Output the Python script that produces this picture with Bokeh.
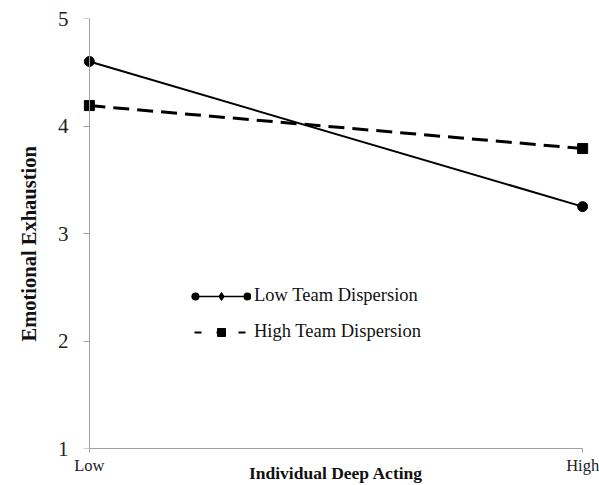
from bokeh.plotting import figure
from bokeh.models import Legend, LegendItem, FixedTicker, ColumnDataSource, LinearAxis, Title
from bokeh.embed import file_html
from bokeh.resources import INLINE

x_labels = ["Low", "High"]
x_pos = [0, 1]
low_disp = [4.6, 3.25]
high_disp = [4.19, 3.79]
y_ticks = [1, 2, 3, 4, 5]

FONT = "Liberation Serif"
PAD = 0.02

p = figure(width=599, height=485, x_range=(-PAD, 1 + PAD), y_range=(1, 5),
           output_backend="svg", toolbar_location=None,
           min_border_left=79, min_border_right=7, min_border_top=18, min_border_bottom=36)
p.outline_line_color = None
p.xgrid.visible = False
p.ygrid.visible = False

src_low = ColumnDataSource(dict(x=x_pos, y=low_disp))
src_high = ColumnDataSource(dict(x=x_pos, y=high_disp))

p.line("x", "y", source=src_low, line_color="black", line_width=2)
p.scatter("x", "y", source=src_low, marker="circle", size=10, color="black")
p.line("x", "y", source=src_high, line_color="black", line_width=3, line_dash="16 8")
p.scatter("x", "y", source=src_high, marker="square", size=10, color="black")

# legend-only glyphs (points placed outside the visible range)
dl = p.line([-9, -8], [-9, -9], line_color="black", line_width=1.5)
dc = p.line([-9, -8], [-9, -9], line_color="black", line_width=8, line_dash="0 52",
            line_dash_offset=-4, line_cap="round")
dd = p.scatter([-9], [-9], marker="diamond", size=11, color="black")
dh = p.line([-9, -8], [-9, -9], line_color="black", line_width=2, line_dash="7 15",
            line_dash_offset=-3)
dsq = p.scatter([-9], [-9], marker="square", size=9, color="black")

legend = Legend(items=[LegendItem(label="Low Team Dispersion", renderers=[dl, dc, dd]),
                       LegendItem(label="High Team Dispersion", renderers=[dh, dsq])],
                location=(112, 106), border_line_color=None, background_fill_alpha=0,
                glyph_width=60, glyph_height=20, label_standoff=3, spacing=15,
                padding=0, margin=0, label_text_font=FONT, label_text_font_size="18.5px",
                label_text_color="#111111")
p.add_layout(legend, "center")

# axis line and ticks at x = 0 (ticks drawn as minor ticks so no labels are made)
p.yaxis.fixed_location = 0
p.yaxis.bounds = (1, 5)
p.yaxis.ticker = FixedTicker(ticks=[], minor_ticks=y_ticks)
p.yaxis.major_tick_line_color = None
p.yaxis.minor_tick_out = 6
p.yaxis.minor_tick_in = 0
p.yaxis.minor_tick_line_color = "#a0a0a0"
p.yaxis.axis_line_color = "#a0a0a0"

# labels of the value axis
ylab = LinearAxis(ticker=FixedTicker(ticks=y_ticks))
ylab.axis_line_color = None
ylab.major_tick_line_color = None
ylab.minor_tick_line_color = None
ylab.major_tick_out = 0
ylab.major_tick_in = 0
ylab.major_label_text_font = FONT
ylab.major_label_text_font_size = "21px"
ylab.major_label_text_color = "#222222"
ylab.major_label_standoff = 11
p.add_layout(ylab, "left")

ytitle = Title(text="Emotional Exhaustion", align="left", offset=107, standoff=30,
               text_font=FONT, text_font_style="bold", text_font_size="20.5px",
               text_color="#111111")
p.add_layout(ytitle, "left")

p.xaxis.bounds = (0, 1)
p.xaxis.ticker = FixedTicker(ticks=x_pos)
p.xaxis.major_label_overrides = {0: x_labels[0], 1: x_labels[1]}
p.xaxis.major_label_text_font = FONT
p.xaxis.major_label_text_font_size = "16.5px"
p.xaxis.major_label_text_color = "#222222"
p.xaxis.major_tick_out = 4
p.xaxis.major_tick_in = 0
p.xaxis.minor_tick_line_color = None
p.xaxis.axis_line_color = "#a0a0a0"
p.xaxis.major_tick_line_color = "#a0a0a0"
p.xaxis.major_label_standoff = 3
p.xaxis.axis_label = "Individual Deep Acting"
p.xaxis.axis_label_text_font = FONT
p.xaxis.axis_label_text_font_style = "bold"
p.xaxis.axis_label_text_font_size = "17.5px"
p.xaxis.axis_label_text_color = "#111111"
p.xaxis.axis_label_standoff = -15

open("out.html", "w").write(file_html(p, INLINE))
